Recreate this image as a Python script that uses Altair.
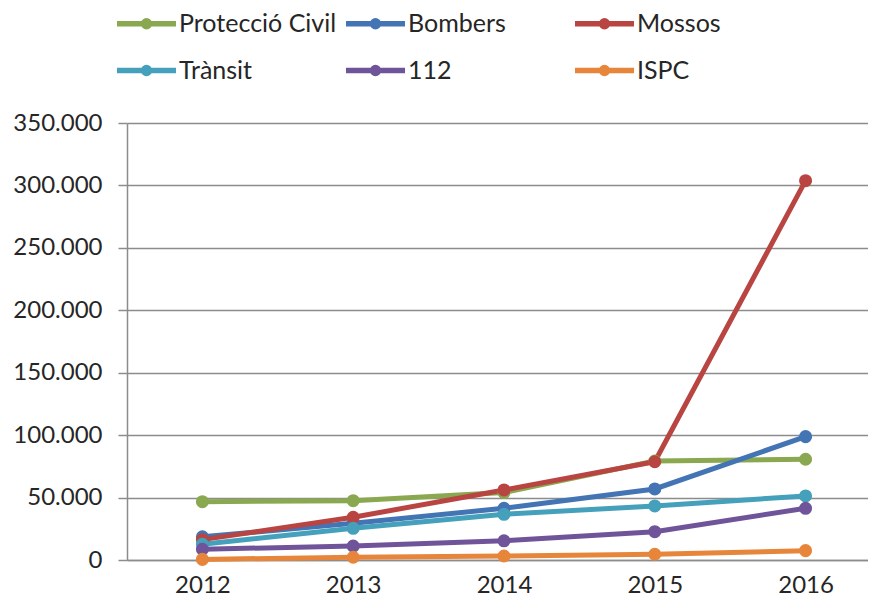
import altair as alt
import pandas as pd

years = [2012, 2013, 2014, 2015, 2016]
series_names = ["Protecció Civil", "Bombers", "Mossos", "Trànsit", "112", "ISPC"]
proteccio_civil = [46700, 47500, 54000, 79200, 80700]
bombers = [18600, 29400, 41400, 56900, 98800]
mossos = [16300, 34200, 56100, 78700, 303800]
transit = [12600, 25400, 36600, 43300, 51300]
s112 = [8600, 11200, 15400, 22700, 41400]
ispc = [500, 2200, 3200, 4600, 7500]
colors = ["#8AA84F", "#4374B3", "#B94542", "#45A0BC", "#70549A", "#E7863B"]
y_ticks = [0, 50000, 100000, 150000, 200000, 250000, 300000, 350000]

rows = []
for order, (name, vals) in enumerate(zip(series_names, [proteccio_civil, bombers, mossos, transit, s112, ispc])):
    for yr, v in zip(years, vals):
        rows.append({"Any": yr, "Valor": v, "Sèrie": name, "ordre": order})
df = pd.DataFrame(rows)

FONT = "Lato"
TXT = "#262626"
GRID = "#8C8C8C"

legend_path = "M-1,0L1,0M0.1,0A0.1,0.1 0 1,1 -0.1,0A0.1,0.1 0 1,1 0.1,0"

color = alt.Color(
    "Sèrie:N",
    scale=alt.Scale(domain=series_names, range=colors),
    legend=alt.Legend(
        title=None, orient="none", legendX=-13, legendY=-132, columns=3,
        direction="horizontal",
        symbolType=legend_path, symbolSize=3481, symbolStrokeWidth=5.5,
        labelFont=FONT, labelFontSize=25, labelColor=TXT, labelLimit=400,
        gridAlign="all", columnPadding=-2, rowPadding=-1, labelOffset=0,
    ),
)

base = alt.Chart(df).encode(
    x=alt.X("Any:Q",
            scale=alt.Scale(domain=[2011.5, 2016.414], nice=False, zero=False),
            axis=alt.Axis(values=years, format="d", title=None, ticks=False, grid=False,
                          labelFont=FONT, labelFontSize=24, labelColor=TXT, labelPadding=13,
                          domainColor=GRID, domainWidth=1.5)),
    y=alt.Y("Valor:Q",
            scale=alt.Scale(domain=[0, 350000], nice=False),
            axis=alt.Axis(values=y_ticks, title=None,
                          labelExpr="replace(format(datum.value, ','), ',', '.')",
                          labelFont=FONT, labelFontSize=24, labelColor=TXT, labelPadding=16,
                          tickSize=9, tickColor=GRID, tickWidth=1.5,
                          gridColor=GRID, gridWidth=1.5, gridOpacity=1,
                          domainColor=GRID, domainWidth=1.5)),
    color=color,
    order=alt.Order("ordre:Q"),
)

lines = base.mark_line(strokeWidth=5)
points = base.mark_point(filled=True, size=170, opacity=1)

chart = (lines + points).properties(
    width=741, height=437,
    autosize=alt.AutoSizeParams(type="none"),
    padding={"left": 119, "top": 115, "right": 0, "bottom": 37},
).configure_view(stroke=None)

chart.save("out.html", embed_options={"renderer": "svg", "actions": False})
